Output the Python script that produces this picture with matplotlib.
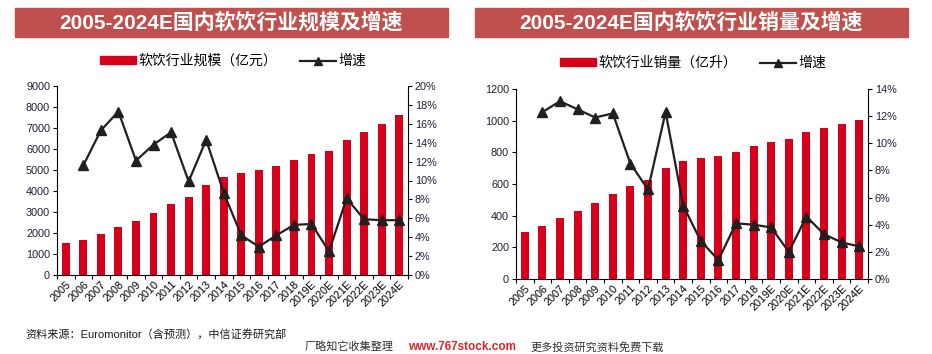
import numpy as np
import matplotlib
matplotlib.use('Agg')
import matplotlib.pyplot as plt
from matplotlib.patches import Rectangle
from matplotlib.lines import Line2D

plt.rcParams['font.family'] = ['Liberation Sans', 'Noto Sans CJK SC', 'DejaVu Sans']

# 数据
years = ['2005', '2006', '2007', '2008', '2009', '2010', '2011', '2012', '2013', '2014',
         '2015', '2016', '2017', '2018', '2019E', '2020E', '2021E', '2022E', '2023E', '2024E']
scale = [1510, 1680, 1950, 2300, 2570, 2940, 3380, 3730, 4270, 4650,
         4840, 5000, 5210, 5480, 5780, 5920, 6410, 6810, 7210, 7640]
scale_growth = [None, 11.6, 15.3, 17.3, 12.1, 13.8, 15.1, 9.9, 14.3, 8.7,
                4.2, 3.0, 4.2, 5.3, 5.4, 2.5, 8.1, 5.9, 5.8, 5.8]
volume = [300, 336, 383, 428, 481, 540, 586, 626, 703, 743,
          763, 774, 803, 837, 867, 884, 926, 953, 981, 1004]
volume_growth = [None, 12.3, 13.1, 12.5, 11.9, 12.2, 8.5, 6.6, 12.3, 5.4,
                 2.8, 1.4, 4.1, 4.0, 3.8, 2.0, 4.6, 3.3, 2.7, 2.4]

titles = ['2005-2024E国内软饮行业规模及增速', '2005-2024E国内软饮行业销量及增速']
bar_labels = ['软饮行业规模（亿元）', '软饮行业销量（亿升）']
line_label = '增速'

red = '#d7001a'
banner = '#c0504d'
black = '#231f20'
tick_col = '#1f1f3a'

fig = plt.figure(figsize=(9.32, 3.54), dpi=100)
W, H = 932, 354


def px(x0, y0, x1, y1):
    return [x0 / W, 1 - y1 / H, (x1 - x0) / W, (y1 - y0) / H]


panels = [
    dict(rect=px(57, 86, 408, 275), banner=(15, 8, 448, 37), bars=scale, growth=scale_growth,
         ymax=9000, ystep=1000, rmax=20, rstep=2, leg_y=61, leg_x=(116, 350)),
    dict(rect=px(516, 89, 868, 279), banner=(475, 8, 908, 37), bars=volume, growth=volume_growth,
         ymax=1200, ystep=200, rmax=14, rstep=2, leg_y=63, leg_x=(571, 815)),
]

x = np.arange(len(years))
for i, p in enumerate(panels):
    bx0, by0, bx1, by1 = p['banner']
    fig.patches.append(Rectangle((bx0 / W, 1 - by1 / H), (bx1 - bx0) / W, (by1 - by0) / H,
                                 transform=fig.transFigure, color=banner, zorder=0))
    fig.text((bx0 + bx1) / 2 / W, 1 - (by0 + by1) / 2 / H, titles[i], color='white',
             fontsize=15, fontweight='bold', ha='center', va='center')

    ax = fig.add_axes(p['rect'])
    ax.bar(x, p['bars'], width=0.45, color=red, zorder=2)
    ax.set_xlim(-0.5, len(years) - 0.5)
    ax.set_ylim(0, p['ymax'])
    ax.set_yticks(np.arange(0, p['ymax'] + 1, p['ystep']))
    ax.set_xticks(x)
    ax.set_xticklabels(years, rotation=45, ha='right', rotation_mode='anchor', fontsize=7.8)
    ax.set_xticks(np.arange(-0.5, len(years)), minor=True)
    ax.tick_params(axis='x', which='major', length=0, pad=3)
    ax.tick_params(axis='x', which='minor', length=3, width=0.8, direction='out')
    ax.tick_params(axis='y', length=3, width=0.8, labelsize=7.8, labelcolor=tick_col, pad=2)
    for s in ['top', 'right']:
        ax.spines[s].set_visible(False)
    ax.spines['left'].set_linewidth(0.8)
    ax.spines['bottom'].set_linewidth(0.8)

    ax2 = ax.twinx()
    g = np.array([np.nan if v is None else v for v in p['growth']], dtype=float)
    ax2.plot(x, g, color=black, lw=1.6, marker='^', markersize=7.5, zorder=3)
    ax2.set_ylim(0, p['rmax'])
    ax2.set_yticks(np.arange(0, p['rmax'] + 1, p['rstep']))
    ax2.set_yticklabels([f'{int(v)}%' for v in np.arange(0, p['rmax'] + 1, p['rstep'])])
    ax2.tick_params(axis='y', length=3, width=0.8, labelsize=7.8, labelcolor=tick_col, pad=2)
    for s in ['top', 'left', 'bottom']:
        ax2.spines[s].set_visible(False)
    ax2.spines['right'].set_linewidth(0.8)

    handles = [Rectangle((0, 0), 1, 1, color=red),
               Line2D([], [], color=black, lw=1.6, marker='^', markersize=6)]
    fig.legend(handles, [bar_labels[i], line_label], loc='center',
               bbox_to_anchor=((p['leg_x'][0] + p['leg_x'][1]) / 2 / W, 1 - p['leg_y'] / H),
               ncol=2, frameon=False, fontsize=10, handlelength=2.6, handleheight=0.5,
               columnspacing=1.6, handletextpad=0.2)

fig.text(25 / W, 1 - 334 / H, '资料来源：Euromonitor（含预测），中信证券研究部', fontsize=8,
         va='center', ha='left', color='#1a1a1a')
wy = 1 - 353 / H
fig.text(305 / W, wy, '厂略知它收集整理', fontsize=8, va='bottom', ha='left', color='#333333')
fig.text(408 / W, wy, 'www.767stock.com', fontsize=8.5, fontweight='bold', va='bottom',
         ha='left', color='#d9262b')
fig.text(530 / W, wy, '更多投资研究资料免费下载', fontsize=8, va='bottom', ha='left',
         color='#333333')

fig.savefig('out.png', dpi=100)
